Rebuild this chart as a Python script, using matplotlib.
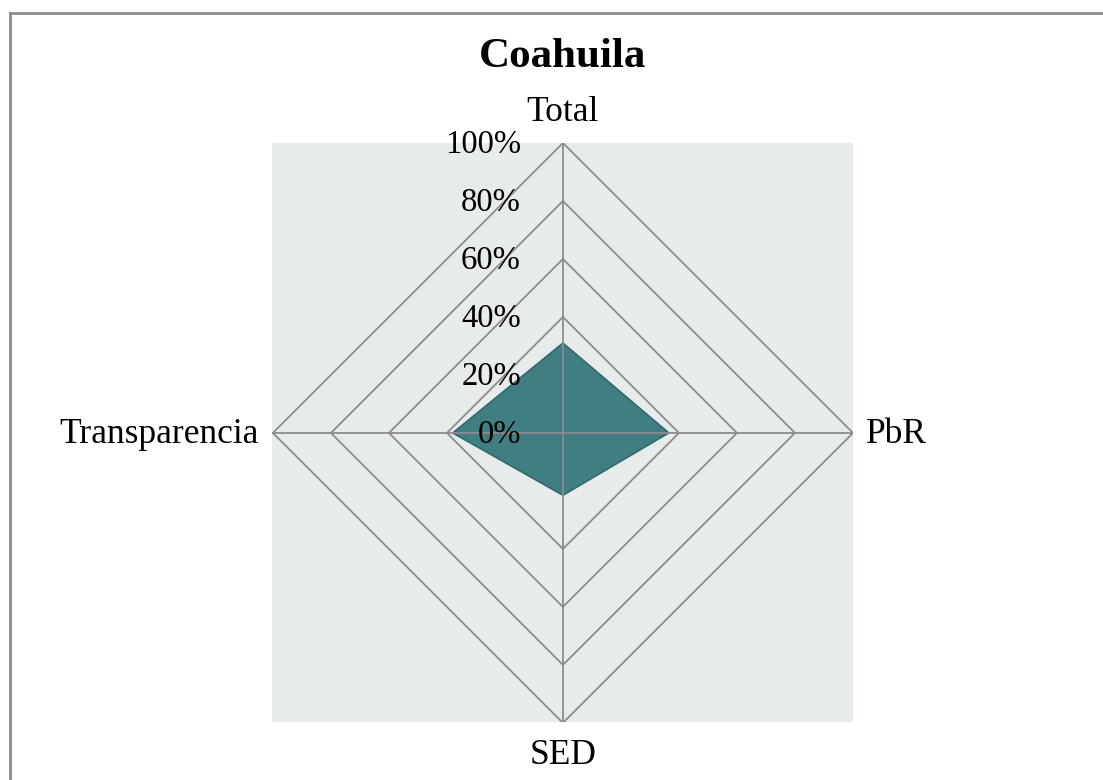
import numpy as np
import matplotlib
matplotlib.use("Agg")
import matplotlib.pyplot as plt
from matplotlib.lines import Line2D

title = "Coahuila"
categories = ["Total", "PbR", "SED", "Transparencia"]
values = [0.31, 0.365, 0.215, 0.38]
levels = [0.2, 0.4, 0.6, 0.8, 1.0]
level_labels = ["20%", "40%", "60%", "80%", "100%"]

serif = ["Liberation Serif", "DejaVu Serif"]
fig = plt.figure(figsize=(11.03, 7.80), dpi=100)
ax = fig.add_axes([272/1103, 58/780, 581/1103, 579/780])
ax.set_facecolor("#e8ebec")
ax.set_xlim(-1.003, 1.0)
ax.set_ylim(-0.997, 1.0)
for s in ax.spines.values():
    s.set_visible(False)
ax.set_xticks([]); ax.set_yticks([])

n = len(categories)
angles = np.pi/2 - np.arange(n) * 2*np.pi/n
cx, cy = np.cos(angles), np.sin(angles)

gc = "#8c8c8c"
for lv in levels:
    ax.plot(np.append(cx, cx[0])*lv, np.append(cy, cy[0])*lv, color=gc, lw=1.3, zorder=1)
for i in range(n):
    ax.plot([0, cx[i]], [0, cy[i]], color=gc, lw=1.3, zorder=3)

v = np.array(values)
ax.fill(v*cx, v*cy, color="#417e82", ec="#2f6a6d", lw=1.2, zorder=2)

tk = dict(ha="right", va="baseline", fontsize=23.5, family=serif, zorder=4, clip_on=False)
ax.text(-0.145, -0.036, "0%", **tk)
for lv, lab in zip(levels, level_labels):
    ax.text(-0.145, lv - 0.036, lab, **tk)

lk = dict(va="baseline", fontsize=25.5, family=serif, clip_on=False)
ax.text(0, 1.076, categories[0], ha="center", **lk)
ax.text(1.045, -0.035, categories[1], ha="left", **lk)
ax.text(0, -1.141, categories[2], ha="center", **lk)
ax.text(-1.05, -0.035, categories[3], ha="right", **lk)

fig.text(563/1103, 1 - 67/780, title, ha="center", va="baseline", fontsize=31,
         fontweight="bold", family=serif)

bx = 10/1103; by = 1 - 13/780
fig.add_artist(Line2D([bx, 1.0], [by, by], color="#8c8c8c", lw=2, transform=fig.transFigure))
fig.add_artist(Line2D([bx, bx], [0, by], color="#8c8c8c", lw=2, transform=fig.transFigure))

fig.savefig("out.png", dpi=100, facecolor="white")
